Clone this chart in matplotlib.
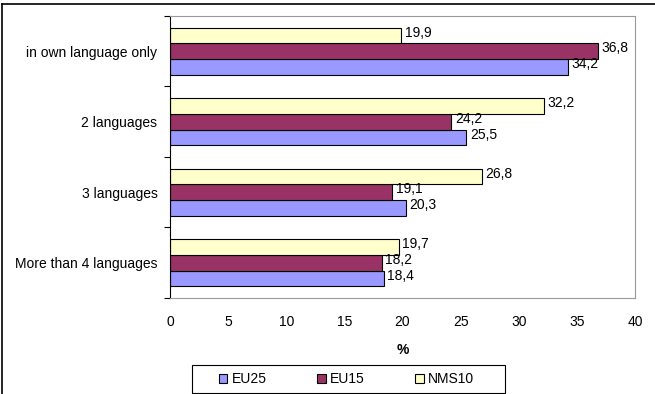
import matplotlib
matplotlib.use("Agg")
import matplotlib.pyplot as plt
from matplotlib.patches import Rectangle
from matplotlib.lines import Line2D
import numpy as np

plt.rcParams['font.family'] = ['Liberation Sans', 'DejaVu Sans']

categories = ["in own language only", "2 languages", "3 languages", "More than 4 languages"]
series_names = ["EU25", "EU15", "NMS10"]
eu25 = [34.2, 25.5, 20.3, 18.4]
eu15 = [36.8, 24.2, 19.1, 18.2]
nms10 = [19.9, 32.2, 26.8, 19.7]
colors = ["#9999FF", "#993366", "#FFFFCC"]
xticks = [0, 5, 10, 15, 20, 25, 30, 35, 40]

W, H = 655, 394
fig = plt.figure(figsize=(6.55, 3.94), dpi=100)
ax = fig.add_axes([0.2595, 0.2437, 0.71, 0.7157])

n = len(categories)
y = np.arange(n)  # 0 top
bh = 0.222
offsets = [bh, 0.0, -bh]  # EU25 bottom, EU15 middle, NMS10 top (y inverted)
data = [eu25, eu15, nms10]
fs = 10
for vals, off, col in zip(data, offsets, colors):
    ax.barh(y + off, vals, height=bh, color=col, edgecolor="black", linewidth=0.8)
    for yy, v in zip(y + off, vals):
        ax.text(v + 0.3, yy - 0.04, f"{v:.1f}".replace(".", ","), va="center", ha="left", fontsize=fs)

ax.set_ylim(n - 0.5, -0.5)
ax.set_xlim(0, 40)
ax.set_xticks(xticks)
ax.set_xticklabels([str(t) for t in xticks], fontsize=fs)
ax.tick_params(axis="x", length=0, pad=12)
ax.set_yticks(y)
ax.set_yticklabels(categories, fontsize=fs)
ax.tick_params(axis="y", which="major", length=0, pad=9)
ax.set_yticks(np.arange(-0.5, n, 1.0), minor=True)
ax.tick_params(axis="y", which="minor", length=4, width=0.8, color="black", direction="out")
ax.set_xlabel("%", fontsize=fs, fontweight="bold", labelpad=10)

for s in ["top", "right", "bottom"]:
    ax.spines[s].set_color("#999999")
    ax.spines[s].set_linewidth(0.8)
ax.spines["left"].set_color("black")
ax.spines["left"].set_linewidth(0.8)

handles = [Rectangle((0, 0), 1, 1, facecolor=c, edgecolor="black", linewidth=0.8) for c in colors]
leg = fig.legend(handles, series_names, loc="center",
                 bbox_to_anchor=(346.5 / W, 1 - 379 / H),
                 ncol=3, fontsize=fs, frameon=False,
                 handlelength=0.6, handleheight=0.6, handletextpad=0.3,
                 borderaxespad=0, borderpad=0.2, columnspacing=3.65)
# legend frame
fig.add_artist(Rectangle((192 / W, 1 - 393 / H), (505 - 192) / W, (393 - 365) / H,
                         transform=fig.transFigure, fill=False, edgecolor="black", linewidth=0.8))

# figure border
fig.add_artist(Line2D([0.003, 0.003], [0, 0.99], transform=fig.transFigure, color="black", linewidth=1.2))
fig.add_artist(Line2D([0.003, 1.0], [0.99, 0.99], transform=fig.transFigure, color="black", linewidth=1.2))

fig.savefig("out.png", dpi=100)
